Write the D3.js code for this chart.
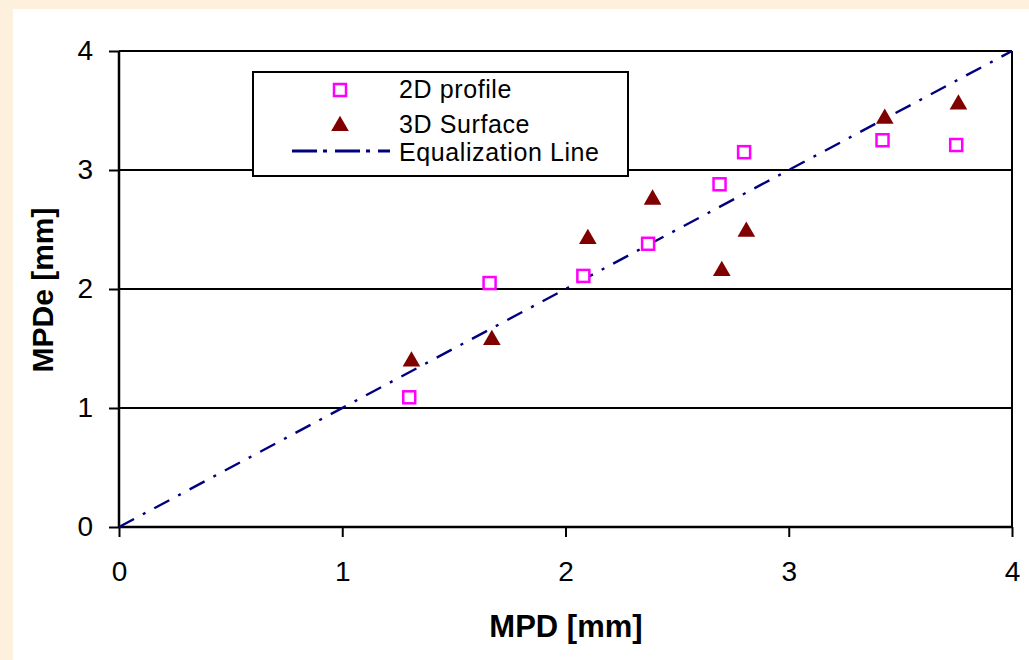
<!DOCTYPE html>
<html>
<head>
<meta charset="utf-8">
<script src="https://cdn.jsdelivr.net/npm/d3@7"></script>
<style>
  body { margin: 0; background: #fdf0dc; }
  svg { display: block; }
  .tick text { font-family: Arial, "Liberation Sans", sans-serif; font-size: 28px; fill: #000; }
</style>
</head>
<body>
<script>
// data
var mpd2d  = [1.30, 1.66, 2.08, 2.37, 2.69, 2.80, 3.42, 3.75];
var mpde2d = [1.09, 2.05, 2.11, 2.38, 2.88, 3.15, 3.25, 3.21];
var mpd3d  = [1.31, 1.67, 2.10, 2.39, 2.70, 2.81, 3.43, 3.76];
var mpde3d = [1.40, 1.58, 2.43, 2.76, 2.16, 2.49, 3.44, 3.56];
var eqLine = [[0, 0], [4, 4]];
var ticks = [0, 1, 2, 3, 4];

var W = 1029, H = 660;
var margin = {top: 51, right: 17, bottom: 133, left: 119},
    width = W - margin.left - margin.right,
    height = H - margin.top - margin.bottom;

var svg = d3.select("body").append("svg")
    .attr("width", W)
    .attr("height", H);

// white chart area over the beige page
svg.append("rect")
    .attr("x", 13).attr("y", 9)
    .attr("width", W).attr("height", H)
    .attr("fill", "#fff");

var g = svg.append("g")
    .attr("transform", "translate(" + margin.left + "," + margin.top + ")");

var x = d3.scaleLinear().domain([0, 4]).range([0, width]);
var y = d3.scaleLinear().domain([0, 4]).range([height, 0]);

// horizontal grid lines
g.append("g")
    .selectAll("line")
    .data(ticks.slice(1))
    .enter().append("line")
    .attr("x1", 0).attr("x2", width)
    .attr("y1", function(d) { return y(d); })
    .attr("y2", function(d) { return y(d); })
    .attr("stroke", "#000")
    .attr("stroke-width", 2);

// right border
g.append("line")
    .attr("x1", width).attr("x2", width)
    .attr("y1", 0).attr("y2", height)
    .attr("stroke", "#000").attr("stroke-width", 2);

var xAxis = g.append("g")
    .attr("transform", "translate(0," + height + ")")
    .call(d3.axisBottom(x).tickValues(ticks).tickFormat(d3.format("d")).tickSize(10).tickPadding(24));
var yAxis = g.append("g")
    .call(d3.axisLeft(y).tickValues(ticks).tickFormat(d3.format("d")).tickSize(10).tickPadding(16));

[xAxis, yAxis].forEach(function(a) {
    a.select(".domain").attr("stroke", "#000").attr("stroke-width", 2.5);
    a.selectAll(".tick line").attr("stroke", "#000").attr("stroke-width", 2);
});
xAxis.select(".domain").attr("d", "M0,0H" + width);
yAxis.select(".domain").attr("d", "M0," + height + "V0");

// equalization line
var line = d3.line()
    .x(function(d) { return x(d[0]); })
    .y(function(d) { return y(d[1]); });

g.append("path")
    .datum(eqLine)
    .attr("d", line)
    .attr("fill", "none")
    .attr("stroke", "#000080")
    .attr("stroke-width", 2.4)
    .attr("stroke-dasharray", "17,10,3,10");

var tri = d3.symbol().type(d3.symbolTriangle).size(135);

// 3D surface
g.append("g")
    .selectAll("path")
    .data(mpd3d)
    .enter().append("path")
    .attr("d", tri)
    .attr("transform", function(d, i) { return "translate(" + x(d) + "," + (y(mpde3d[i]) + 1) + ")"; })
    .attr("fill", "#800000");

// 2D profile
g.append("g")
    .selectAll("rect")
    .data(mpd2d)
    .enter().append("rect")
    .attr("x", function(d) { return x(d) - 6; })
    .attr("y", function(d, i) { return y(mpde2d[i]) - 6; })
    .attr("width", 12).attr("height", 12)
    .attr("fill", "#fff")
    .attr("stroke", "#ff00ff")
    .attr("stroke-width", 2.5);

// axis titles
svg.append("text")
    .attr("x", 566).attr("y", 637)
    .attr("text-anchor", "middle")
    .style("font-family", "Arial, 'Liberation Sans', sans-serif")
    .style("font-size", "31px").style("font-weight", "bold")
    .text("MPD [mm]");

svg.append("text")
    .attr("transform", "translate(53,290) rotate(-90)")
    .attr("text-anchor", "middle")
    .style("font-family", "Arial, 'Liberation Sans', sans-serif")
    .style("font-size", "30px").style("font-weight", "bold")
    .text("MPDe [mm]");

// legend
var leg = svg.append("g");
leg.append("rect")
    .attr("x", 253).attr("y", 72)
    .attr("width", 375).attr("height", 104)
    .attr("fill", "#fff").attr("stroke", "#000").attr("stroke-width", 2);

leg.append("rect")
    .attr("x", 334).attr("y", 84).attr("width", 12).attr("height", 12)
    .attr("fill", "#fff").attr("stroke", "#ff00ff").attr("stroke-width", 2.5);
leg.append("path")
    .attr("d", tri)
    .attr("transform", "translate(340,126)")
    .attr("fill", "#800000");
leg.append("line")
    .attr("x1", 292).attr("x2", 390).attr("y1", 151).attr("y2", 151)
    .attr("stroke", "#000080").attr("stroke-width", 3)
    .attr("stroke-dasharray", "25,6,4,8");

var legendLabels = ["2D profile", "3D Surface", "Equalization Line"];
var legendY = [98, 133, 161];
leg.selectAll("text.lab")
    .data(legendLabels)
    .enter().append("text")
    .attr("class", "lab")
    .attr("x", 399)
    .attr("y", function(d, i) { return legendY[i]; })
    .style("font-family", "Arial, 'Liberation Sans', sans-serif")
    .style("font-size", "25px")
    .style("letter-spacing", "0.6px")
    .text(function(d) { return d; });
</script>
</body>
</html>
